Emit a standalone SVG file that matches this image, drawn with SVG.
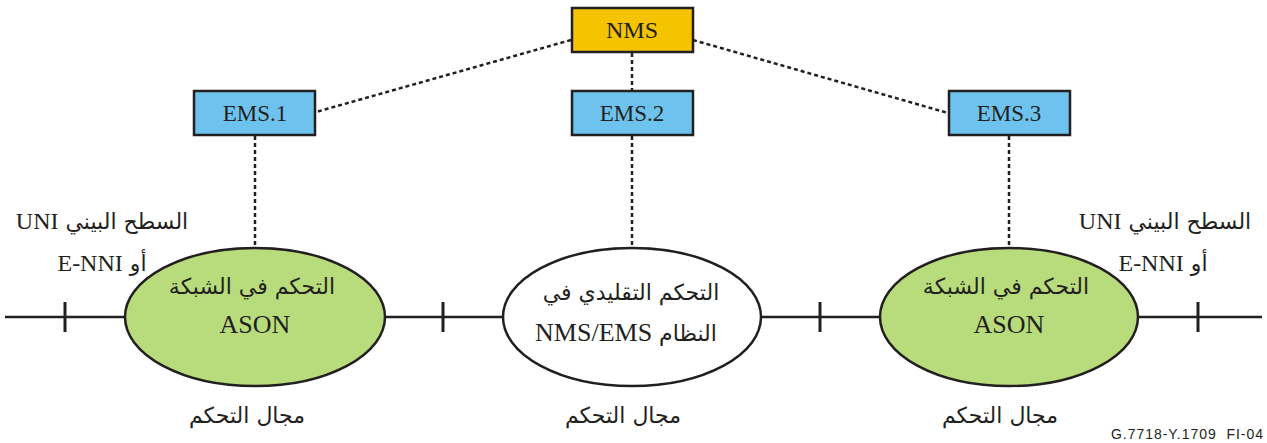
<svg xmlns="http://www.w3.org/2000/svg" width="1267" height="443" viewBox="0 0 1267 443">
  <style>
    .box { stroke: #231f20; stroke-width: 2.5; }
    .nms { fill: #f5c400; }
    .ems { fill: #6ec3ee; }
    .dash { fill: none; stroke: #231f20; stroke-width: 2.5; stroke-dasharray: 4 3; }
    .solid { fill: none; stroke: #231f20; stroke-width: 2.5; }
    .tick { fill: none; stroke: #231f20; stroke-width: 3; }
    .dom { stroke: #231f20; stroke-width: 2.5; }
    .ason { fill: #b8dc7c; }
    .trad { fill: #ffffff; }
    .lbl { font-family: "Liberation Serif", serif; font-size: 23px; fill: #231f20; text-anchor: middle; }
    .ar { font-family: "DejaVu Sans", sans-serif; font-size: 22px; fill: #231f20; text-anchor: middle; direction: rtl; unicode-bidi: embed; }
    .lat { font-family: "Liberation Serif", serif; font-size: 24px; }
    .foot { font-family: "Liberation Sans", Arial, sans-serif; font-size: 14px; fill: #231f20; text-anchor: end; }
  </style>

  <!-- Management links and transport line -->
  <g id="connectors">
    <line class="dash" x1="571" y1="40" x2="316" y2="112"/>
    <line class="dash" x1="632" y1="53" x2="632" y2="91"/>
    <line class="dash" x1="693" y1="40" x2="948" y2="113"/>
    <line class="dash" x1="255" y1="136" x2="255" y2="248"/>
    <line class="dash" x1="632" y1="136" x2="632" y2="248"/>
    <line class="dash" x1="1009" y1="136" x2="1009" y2="248"/>
    <line class="solid" x1="5" y1="317" x2="1262" y2="317"/>
    <line class="tick" x1="65" y1="302" x2="65" y2="332"/>
    <line class="tick" x1="443" y1="302" x2="443" y2="332"/>
    <line class="tick" x1="820" y1="302" x2="820" y2="332"/>
    <line class="tick" x1="1198" y1="302" x2="1198" y2="332"/>
  </g>

  <g id="nms">
    <rect class="box nms" x="572" y="8" width="121" height="44"/>
    <text class="lbl" x="632" y="38" style="font-size:24px">NMS</text>
  </g>

  <g id="ems1">
    <rect class="box ems" x="194" y="91" width="121" height="44"/>
    <text class="lbl" x="255" y="121">EMS.1</text>
  </g>

  <g id="ems2">
    <rect class="box ems" x="572" y="91" width="121" height="44"/>
    <text class="lbl" x="632" y="121">EMS.2</text>
  </g>

  <g id="ems3">
    <rect class="box ems" x="949" y="91" width="121" height="44"/>
    <text class="lbl" x="1009" y="121">EMS.3</text>
  </g>

  <g id="domain1">
    <ellipse class="dom ason" cx="255" cy="317" rx="130" ry="69"/>
    <text class="ar" x="252" y="294">التحكم في الشبكة</text>
    <text class="lbl" x="255" y="333" style="font-size:26px">ASON</text>
  </g>

  <g id="domain2">
    <ellipse class="dom trad" cx="632" cy="317" rx="129" ry="69"/>
    <text class="ar" x="631" y="300">التحكم التقليدي في</text>
    <text class="ar" x="626" y="341">النظام <tspan class="lat" style="font-size:26px">NMS/EMS</tspan></text>
  </g>

  <g id="domain3">
    <ellipse class="dom ason" cx="1009" cy="317" rx="129" ry="69"/>
    <text class="ar" x="1006" y="294">التحكم في الشبكة</text>
    <text class="lbl" x="1009" y="333" style="font-size:26px">ASON</text>
  </g>

  <g id="iface-left">
    <text class="ar" x="102" y="229">السطح البيني <tspan class="lat">UNI</tspan></text>
    <text class="ar" x="102" y="271">أو <tspan class="lat">E-NNI</tspan></text>
  </g>

  <g id="iface-right">
    <text class="ar" x="1165" y="229">السطح البيني <tspan class="lat">UNI</tspan></text>
    <text class="ar" x="1163" y="271">أو <tspan class="lat">E-NNI</tspan></text>
  </g>

  <g id="domain-labels">
    <text class="ar" x="247" y="423">مجال التحكم</text>
    <text class="ar" x="623" y="423">مجال التحكم</text>
    <text class="ar" x="1000" y="423">مجال التحكم</text>
  </g>

  <text class="foot" x="1263" y="439" xml:space="preserve" textLength="152" lengthAdjust="spacing">G.7718-Y.1709  FI-04</text>
</svg>
